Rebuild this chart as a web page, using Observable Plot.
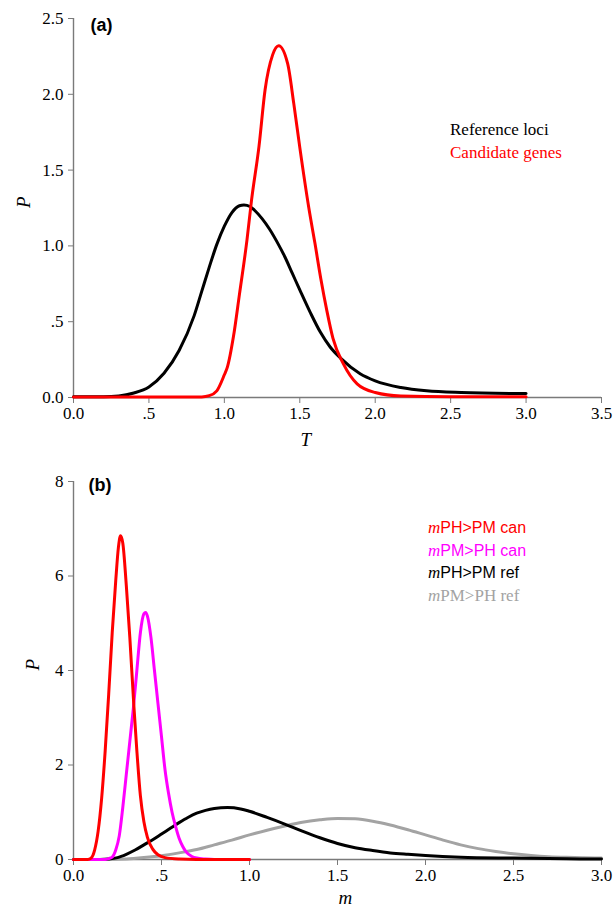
<!DOCTYPE html>
<html><head><meta charset="utf-8">
<script src="https://cdn.jsdelivr.net/npm/d3@7"></script>
<script src="https://cdn.jsdelivr.net/npm/@observablehq/plot@0.6"></script>
<style>
body{margin:0;background:#fff;}
#wrap{position:relative;width:615px;height:909px;overflow:hidden;}
.panel{position:absolute;left:0;}
.leg{position:absolute;white-space:nowrap;line-height:20px;}
.serif{font-family:"Liberation Serif","Times New Roman",serif;}
.sans{font-family:"Liberation Sans",Arial,sans-serif;}
.it{font-style:italic;font-family:"Liberation Serif","Times New Roman",serif;}
svg.panel text{font-family:"Liberation Serif","Times New Roman",serif !important;font-size:17px;}
svg.panel text.tag{font-family:"Liberation Sans",Arial,sans-serif !important;font-weight:bold;font-size:18px;}
svg.panel text.ax{font-style:italic;font-size:19px;}
</style></head><body><div id="wrap"></div>
<script>
// ---------- Panel (a): T vs P ----------
const refLociA = [[0,0.005],[0.2,0.005],[0.3,0.01],[0.4,0.03],[0.5,0.07],[0.6,0.16],[0.7,0.31],[0.8,0.54],[0.85,0.70],[0.9,0.86],[0.95,1.01],[1.0,1.13],[1.05,1.22],[1.1,1.265],[1.13,1.27],[1.17,1.26],[1.2,1.235],[1.25,1.18],[1.3,1.11],[1.35,1.025],[1.4,0.93],[1.45,0.82],[1.5,0.71],[1.57,0.56],[1.637,0.43],[1.7,0.335],[1.77,0.26],[1.9,0.157],[2.0,0.11],[2.17,0.066],[2.34,0.044],[2.57,0.033],[3.0,0.026]];
const candGenesA = [[0,0.004],[0.85,0.004],[0.9,0.012],[0.95,0.044],[1.0,0.15],[1.02,0.2],[1.06,0.40],[1.1,0.68],[1.15,1.04],[1.18,1.3],[1.23,1.66],[1.27,2.03],[1.32,2.26],[1.36,2.32],[1.42,2.2],[1.46,1.94],[1.5,1.65],[1.56,1.25],[1.6,1.02],[1.64,0.78],[1.68,0.57],[1.72,0.39],[1.79,0.22],[1.88,0.09],[2.0,0.033],[2.17,0.01],[2.5,0.005],[3.0,0.005]];
const ticksTA = [0,0.5,1,1.5,2,2.5,3,3.5];
const ticksPA = [0,0.5,1,1.5,2,2.5];
const legendA = [["Reference loci","#000000"],["Candidate genes","#ff0000"]];

// ---------- Panel (b): m vs P ----------
const phpmCan = [[0,0],[0.08,0],[0.10,0.03],[0.12,0.2],[0.14,0.6],[0.16,1.3],[0.18,2.3],[0.20,3.5],[0.22,4.8],[0.24,5.9],[0.255,6.6],[0.267,6.85],[0.28,6.7],[0.30,5.8],[0.32,4.7],[0.343,3.25],[0.36,2.3],[0.38,1.35],[0.40,0.8],[0.42,0.47],[0.45,0.22],[0.48,0.1],[0.52,0.04],[0.6,0.01],[0.7,0],[1.0,0]];
const pmphCan = [[0,0],[0.18,0],[0.20,0.02],[0.22,0.05],[0.24,0.2],[0.26,0.5],[0.28,1.1],[0.30,1.8],[0.32,2.5],[0.34,3.2],[0.36,4.0],[0.38,4.8],[0.40,5.2],[0.41,5.23],[0.42,5.15],[0.44,4.7],[0.46,4.0],[0.48,3.3],[0.50,2.6],[0.52,1.9],[0.54,1.4],[0.56,1.0],[0.58,0.7],[0.60,0.45],[0.62,0.28],[0.64,0.16],[0.67,0.07],[0.70,0.03],[0.75,0.01],[0.8,0],[1.0,0]];
const phpmRef = [[0,0],[0.15,0],[0.2,0.01],[0.25,0.04],[0.3,0.11],[0.35,0.2],[0.4,0.31],[0.45,0.42],[0.5,0.54],[0.55,0.66],[0.6,0.78],[0.65,0.89],[0.7,0.98],[0.75,1.04],[0.8,1.08],[0.875,1.10],[0.95,1.07],[1.0,1.02],[1.1,0.89],[1.2,0.75],[1.3,0.60],[1.4,0.46],[1.5,0.34],[1.6,0.25],[1.7,0.19],[1.8,0.14],[1.9,0.11],[2.0,0.085],[2.2,0.05],[2.5,0.03],[2.8,0.015],[3.0,0.01]];
const pmphRef = [[0,0],[0.2,0],[0.3,0.01],[0.4,0.04],[0.5,0.08],[0.6,0.14],[0.7,0.21],[0.8,0.31],[0.9,0.41],[1.0,0.52],[1.1,0.62],[1.2,0.71],[1.3,0.79],[1.4,0.84],[1.5,0.87],[1.6,0.86],[1.7,0.81],[1.8,0.73],[1.9,0.63],[2.0,0.52],[2.1,0.41],[2.2,0.31],[2.3,0.23],[2.4,0.17],[2.5,0.12],[2.6,0.085],[2.7,0.06],[2.8,0.045],[2.9,0.035],[3.0,0.03]];
const ticksMB = [0,0.5,1,1.5,2,2.5,3];
const ticksPB = [0,2,4,6,8];
const legendB = [["PH>PM can","#ff0000","sans"],["PM>PH can","#ff00ff","sans"],["PH>PM ref","#000000","sans"],["PM>PH ref","#a3a3a3","serif"]];

const SERIF = '"Liberation Serif","Times New Roman",serif';
const SANS = '"Liberation Sans",Arial,sans-serif';
const AX = "#7a7a7a";
const decFmt = d => d === 0 ? "0.0" : (d < 1 ? ".5" : d.toFixed(1));

function panel(o) {
  const svg = Plot.plot({
    width: 615, height: o.height,
    marginLeft: 73, marginRight: 14, marginTop: o.marginTop, marginBottom: o.marginBottom,
    style: {background: "white", overflow: "visible", color: "black"},
    x: {domain: o.xDomain},
    y: {domain: o.yDomain},
    marks: [
      Plot.ruleX([o.xDomain[0]], {stroke: AX, strokeWidth: 1.4}),
      Plot.ruleY([o.yDomain[0]], {stroke: AX, strokeWidth: 1.4}),
      Plot.axisX({ticks: o.xTicks, tickFormat: decFmt, tickSize: 6, tickPadding: 3, stroke: AX, label: null, fill: "black", fontSize: 17}),
      Plot.axisY({ticks: o.yTicks, tickFormat: o.yFmt, tickSize: 5, tickPadding: 5, stroke: AX, label: null, fill: "black", fontSize: 17}),
      ...o.series.map(s => Plot.line(s.data, {x: d => d[0], y: d => d[1], stroke: s.color, strokeWidth: 3, curve: "monotone-x"})),
      Plot.text([o.tag], {frameAnchor: "top-left", dx: o.tagDx, dy: o.tagDy, lineAnchor: "middle", textAnchor: "start", fontWeight: "bold", fontSize: 18}),
      Plot.text([o.xLabel], {frameAnchor: "bottom-left", dx: o.xLabelDx, dy: o.xLabelDy, lineAnchor: "middle", fontStyle: "italic", fontSize: 19}),
      Plot.text(["P"], {frameAnchor: "left", dx: o.yLabelDx, rotate: -90, lineAnchor: "middle", fontStyle: "italic", fontSize: 19})
    ]
  });
  svg.classList.add("panel");
  svg.querySelectorAll("text").forEach(t => {
    const s = t.textContent.trim();
    if (s === o.tag) t.classList.add("tag");
    else if (s === o.xLabel || s === "P") t.classList.add("ax");
  });
  return svg;
}

const wrap = document.getElementById("wrap");

const a = panel({
  height: 450, marginTop: 18, marginBottom: 53,
  xDomain: [0, 3.5], yDomain: [0, 2.5], xTicks: ticksTA, yTicks: ticksPA, yFmt: decFmt,
  series: [{data: refLociA, color: "#000000"}, {data: candGenesA, color: "#ff0000"}],
  tag: "(a)", tagDx: 17, tagDy: 7, xLabel: "T", xLabelDx: 227, xLabelDy: 42, yLabelDx: -50
});
a.style.top = "0px";
wrap.appendChild(a);

const b = panel({
  height: 459, marginTop: 31, marginBottom: 50,
  xDomain: [0, 3], yDomain: [0, 8], xTicks: ticksMB, yTicks: ticksPB, yFmt: d3.format("d"),
  series: [{data: pmphRef, color: "#a3a3a3"}, {data: phpmRef, color: "#000000"}, {data: pmphCan, color: "#ff00ff"}, {data: phpmCan, color: "#ff0000"}],
  tag: "(b)", tagDx: 15, tagDy: 4, xLabel: "m", xLabelDx: 265, xLabelDy: 38, yLabelDx: -41
});
b.style.top = "450px";
wrap.appendChild(b);

// legends
legendA.forEach(([label, color], i) => {
  const d = document.createElement("div");
  d.className = "leg serif";
  d.style.left = "450px"; d.style.top = (120 + i * 23) + "px";
  d.style.fontSize = "17px"; d.style.color = color;
  d.textContent = label;
  wrap.appendChild(d);
});
legendB.forEach(([label, color, fam], i) => {
  const d = document.createElement("div");
  d.className = "leg";
  d.style.left = "428px"; d.style.top = (518 + i * 22.5) + "px";
  d.style.color = color;
  const m = document.createElement("span");
  m.className = "it"; m.style.fontSize = "17px"; m.textContent = "m";
  const r = document.createElement("span");
  r.className = fam; r.style.fontSize = fam === "serif" ? "17px" : "16px"; r.textContent = label;
  d.appendChild(m); d.appendChild(r);
  wrap.appendChild(d);
});
</script>
</body></html>
